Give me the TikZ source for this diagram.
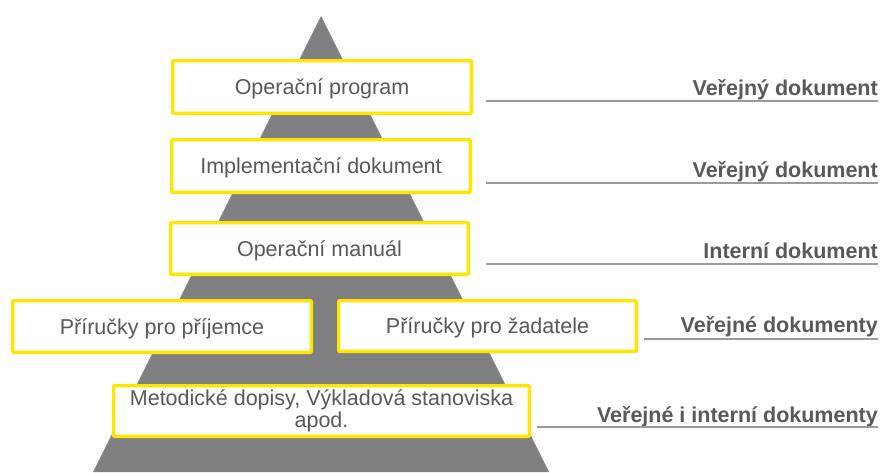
\documentclass[tikz,border=0pt]{standalone}
\usepackage{fontspec}
\setmainfont{Liberation Sans}
\usetikzlibrary{positioning}
\definecolor{eyyellow}{RGB}{255,230,0}
\definecolor{pyrgray}{RGB}{128,128,131}
\definecolor{txtgray}{RGB}{89,89,89}
\definecolor{rulegray}{RGB}{155,155,155}

\begin{document}
\begin{tikzpicture}[x=1pt,y=-1pt,
        lvl/.style={draw=eyyellow, line width=3.3pt, fill=white, rounded corners=1pt, inner sep=0pt,
            text=txtgray, font=\fontsize{21.5}{22}\selectfont, minimum width=298.7pt, minimum height=52.7pt},
        one/.style={text height=15.4pt, text depth=0pt},
        tag/.style={anchor=base east, inner sep=0pt, text=txtgray, font=\fontsize{21.5}{22}\selectfont\bfseries},
        rule/.style={draw=rulegray, line width=1.5pt}]
        \useasboundingbox (0,0) rectangle (880,472);
        \fill[pyrgray] (321,16) -- (549,472) -- (93,472) -- cycle;
        % levels of the pyramid
        \node[lvl,one] (op)  at (322,87)    {Operační program};
        \node[lvl,one] (imp) at (321,166)   {Implementační dokument};
        \node[lvl,one,minimum width=297.7pt,minimum height=51.7pt] (man) at (319.5,248.5) {Operační manuál};
        \node[lvl,one,minimum height=51.7pt] (prij) at (162,326.5) {Příručky pro příjemce};
        \node[lvl,one,minimum width=297.7pt,minimum height=50.7pt] (zad) at (487.5,326) {Příručky pro žadatele};
        \node[lvl,align=center,minimum width=415.7pt,minimum height=50.7pt] (met) at (321.5,411)
            {Metodické dopisy, Výkladová stanoviska\\apod.};
        % labels on the right
        \node[tag] (t1) at (878,95)  {Veřejný dokument};
        \node[tag] (t2) at (878,177) {Veřejný dokument};
        \node[tag] (t3) at (878,258) {Interní dokument};
        \node[tag] (t4) at (878,332) {Veřejné dokumenty};
        \node[tag] (t5) at (878,422) {Veřejné i interní dokumenty};
        \coordinate (r1) at (486,101);
        \coordinate (r2) at (486,183);
        \coordinate (r3) at (486,264);
        \coordinate (r4) at (644,339);
        \coordinate (r5) at (537,427);
        \foreach \i in {1,...,5}
            \draw[rule] (r\i) -- (r\i -| t\i.east);
\end{tikzpicture}
\end{document}
